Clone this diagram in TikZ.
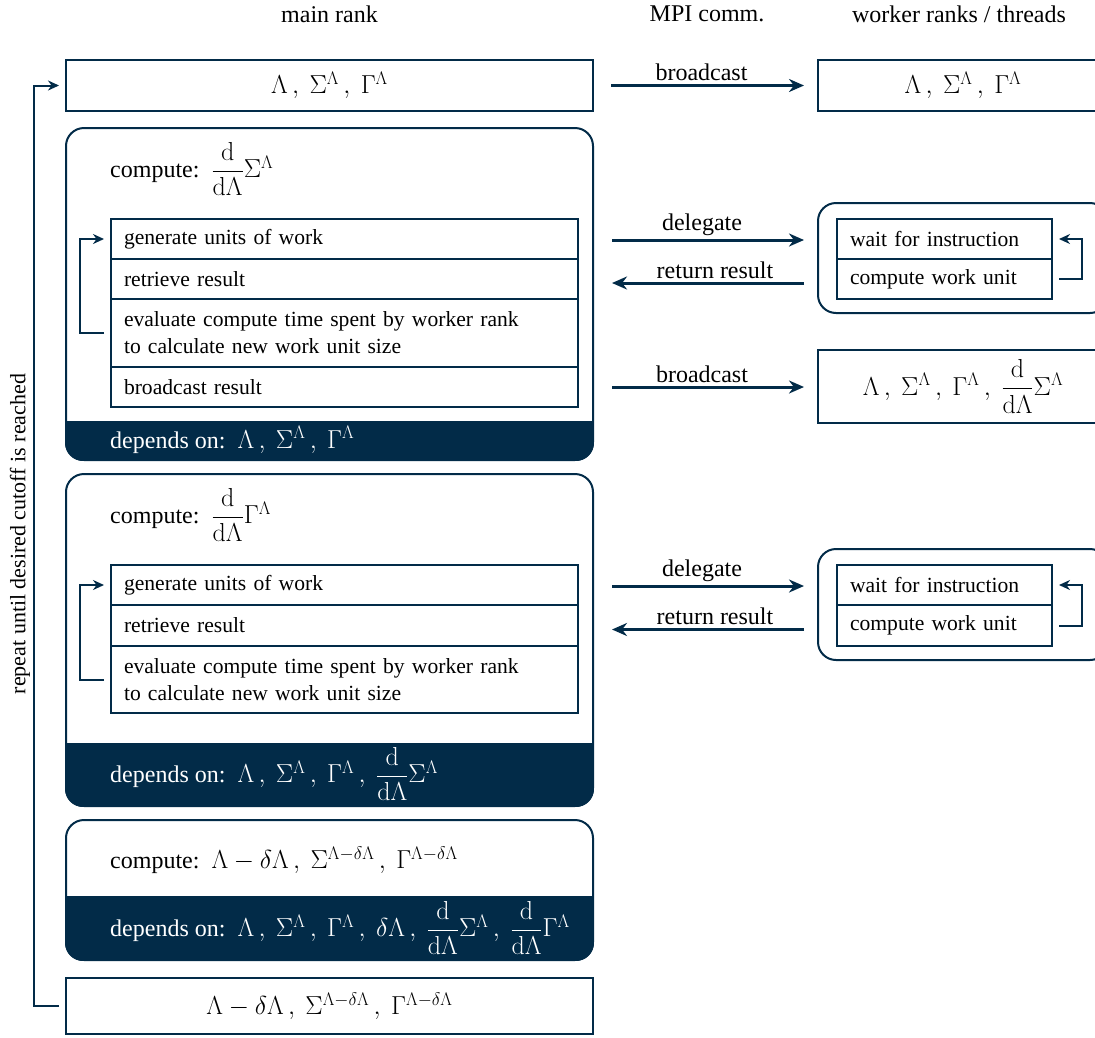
\RequirePackage{fix-cm}
\documentclass[tikz,border=0pt]{standalone}
\usepackage{amsmath}
\usepackage[no-math]{fontspec}
\setmainfont{Liberation Serif}
\usetikzlibrary{arrows.meta,calc}
\definecolor{navy}{RGB}{2,43,72}
\DeclareMathSizes{24}{26}{18.2}{13}
\newcommand\bigfnt{\fontsize{24}{29}\selectfont}
\newcommand\rowfnt{\fontsize{21.6}{27}\selectfont}
\newcommand\dd{\dfrac{\mathrm{d}}{\mathrm{d}\Lambda}}
\begin{document}
\begin{tikzpicture}[x=1pt,y=-1pt,
  hdr/.style={font=\bigfnt, inner sep=0},
  txt/.style={font=\bigfnt, inner sep=0, anchor=west},
  dep/.style={font=\bigfnt, inner sep=0, anchor=west, text=white},
  box/.style={draw=navy, line width=2, fill=white, font=\bigfnt, inner sep=0},
  outer/.style={draw=navy, line width=2, rounded corners=18, inner sep=0},
  row/.style={draw=navy, line width=2, anchor=north west, inner xsep=13, inner ysep=0,
    text width=441, align=left, font=\rowfnt, minimum height=40},
  wrow/.style={row, text width=189},
  arr/.style={draw=navy, line width=3, -{Stealth[length=15,width=13]}},
  lp/.style={draw=navy, line width=2, -{Stealth[length=11,width=10]}},
  lbl/.style={font=\bigfnt, inner sep=3},
]
\useasboundingbox (0,0) rectangle (1095,1037);

% headers
\node[hdr] (h1) at (329.5,14) {main rank};
\node[hdr] (h2) at (707,14) {MPI comm.};
\node[hdr] (h3) at (959,14) {worker ranks / threads};

% top
\node[box, minimum width=527, minimum height=51] (s0) at (329.5,85.5) {$\Lambda\,,\ \Sigma^{\Lambda}\,,\ \Gamma^{\Lambda}$};
\node[box, minimum width=290, minimum height=51] (t0) at (963,85.5) {$\Lambda\,,\ \Sigma^{\Lambda}\,,\ \Gamma^{\Lambda}$};
\draw[arr] ($(s0.east)+(17,0)$) -- ($(t0.west)+(-13,0)$) node[midway,above,lbl,xshift=-6] {broadcast};

% block 1
\node[outer, minimum width=527, minimum height=332] (b1) at (329.5,294) {};
\begin{scope}
  \clip[rounded corners=18] (b1.north west) rectangle (b1.south east);
  \fill[navy] (b1.south west) rectangle ($(b1.south east)+(0,-40)$);
\end{scope}
\node[txt] (c1) at (110,169) {compute:\ \ $\dd\Sigma^{\Lambda}$};
\node[dep] (d1) at (110,440) {depends on:\ \ $\Lambda\,,\ \Sigma^{\Lambda}\,,\ \Gamma^{\Lambda}$};
\node[row] (r11) at (110,218) {generate units of work};
\node[row] (r12) at (110,258) {retrieve result};
\node[row, minimum height=68] (r13) at (110,298) {evaluate compute time spent by worker rank\\to calculate new work unit size};
\node[row] (r14) at (110,366) {broadcast result};
\draw[lp] ($(r13.west)+(-6,0)$) -- ++(-24,0) |- ($(r11.west)+(-6,0)$);

\node[outer, minimum width=290, minimum height=110] (w1) at (963,258) {};
\node[wrow] (w11) at (836,218) {wait for instruction};
\node[wrow] (w12) at (836,258) {compute work unit};
\draw[lp] ($(w12.east)+(6,0)$) -- ++(23,0) |- ($(w11.east)+(6,0)$);

\draw[arr] ($(r11.east)+(33,1)$) -- ($(w1.west |- r11.east)+(-13,1)$) node[midway,above,lbl,xshift=-6] {delegate};
\draw[arr] ($(w1.west |- r12.east)+(-13,4)$) -- ($(r12.east)+(33,4)$) node[midway,above,lbl,xshift=7] {return result};

\node[box, minimum width=290, minimum height=73] (t1) at (963,386.5) {$\Lambda\,,\ \Sigma^{\Lambda}\,,\ \Gamma^{\Lambda}\,,\ \dd\Sigma^{\Lambda}$};
\draw[arr] ($(r14.east)+(33,0)$) -- ($(t1.west |- r14.east)+(-13,0)$) node[midway,above,lbl,xshift=-6] {broadcast};

% block 2
\node[outer, minimum width=527, minimum height=332] (b2) at (329.5,640) {};
\begin{scope}
  \clip[rounded corners=18] (b2.north west) rectangle (b2.south east);
  \fill[navy] (b2.south west) rectangle ($(b2.south east)+(0,-64)$);
\end{scope}
\node[txt] (c2) at (110,515) {compute:\ \ $\dd\Gamma^{\Lambda}$};
\node[dep] (d2) at (110,774) {depends on:\ \ $\Lambda\,,\ \Sigma^{\Lambda}\,,\ \Gamma^{\Lambda}\,,\ \dd\Sigma^{\Lambda}$};
\node[row] (r21) at (110,564) {generate units of work};
\node[row, minimum height=41] (r22) at (110,604) {retrieve result};
\node[row, minimum height=67] (r23) at (110,645) {evaluate compute time spent by worker rank\\to calculate new work unit size};
\draw[lp] ($(r23.west)+(-6,0)$) -- ++(-24,0) |- ($(r21.west)+(-6,0)$);

\node[outer, minimum width=290, minimum height=111] (w2) at (963,604.5) {};
\node[wrow] (w21) at (836,564) {wait for instruction};
\node[wrow, minimum height=41] (w22) at (836,604) {compute work unit};
\draw[lp] ($(w22.east)+(6,0)$) -- ++(23,0) |- ($(w21.east)+(6,0)$);

\draw[arr] ($(r21.east)+(33,1)$) -- ($(w2.west |- r21.east)+(-13,1)$) node[midway,above,lbl,xshift=-6] {delegate};
\draw[arr] ($(w2.west |- r22.east)+(-13,4)$) -- ($(r22.east)+(33,4)$) node[midway,above,lbl,xshift=7] {return result};

% block 3
\node[outer, minimum width=527, minimum height=140] (b3) at (329.5,890) {};
\begin{scope}
  \clip[rounded corners=18] (b3.north west) rectangle (b3.south east);
  \fill[navy] (b3.south west) rectangle ($(b3.south east)+(0,-65)$);
\end{scope}
\node[txt] (c3) at (110,860) {compute:\ \ $\Lambda-\delta\Lambda\,,\ \Sigma^{\Lambda-\delta\Lambda}\,,\ \Gamma^{\Lambda-\delta\Lambda}$};
\node[dep] (d3) at (110,928) {depends on:\ \ $\Lambda\,,\ \Sigma^{\Lambda}\,,\ \Gamma^{\Lambda}\,,\ \delta\Lambda\,,\ \dd\Sigma^{\Lambda}\,,\ \dd\Gamma^{\Lambda}$};

% bottom
\node[box, minimum width=527, minimum height=56] (s5) at (329.5,1006) {$\Lambda-\delta\Lambda\,,\ \Sigma^{\Lambda-\delta\Lambda}\,,\ \Gamma^{\Lambda-\delta\Lambda}$};

% outer loop
\draw[lp] ($(s5.west)+(-6,0)$) -- ++(-25,0) |- ($(s0.west)+(-6,0)$);
\node[rotate=90, font=\fontsize{22}{26}\selectfont, inner sep=0] (rep) at (20,534) {repeat until desired cutoff is reached};
\end{tikzpicture}
\end{document}
